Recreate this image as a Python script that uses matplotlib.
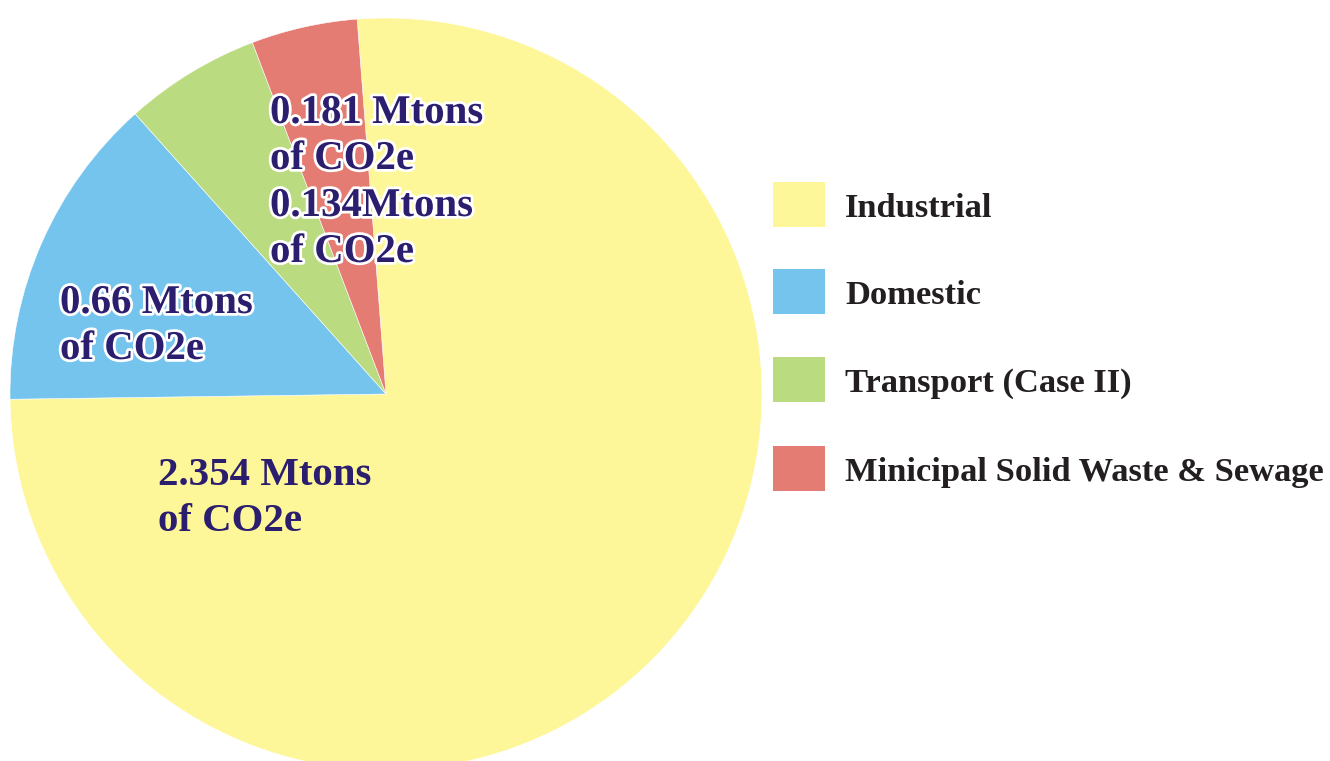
import matplotlib
matplotlib.use("Agg")
import matplotlib.pyplot as plt
import matplotlib.patheffects as pe
from matplotlib.patches import Rectangle

# ---- data (slice shares read from the drawn wedges) ----
categories = ["Industrial", "Domestic", "Transport (Case II)", "Minicipal Solid Waste & Sewage"]
shares = [76.0, 13.6, 5.84, 4.56]
slice_labels = ["2.354 Mtons\nof CO2e", "0.66 Mtons\nof CO2e", "0.181 Mtons\nof CO2e", "0.134Mtons\nof CO2e"]
colors = ["#FEF799", "#74C4EE", "#BADB7F", "#E57C73"]

W, H = 1330, 761
fig = plt.figure(figsize=(W / 100, H / 100), dpi=100)
fig.patch.set_facecolor("white")

def fx(x):
    return x / W

def fy(y):
    return 1 - y / H

# pie axes: circle centre (386, 394) px, radius 376 px
cx, cy, r = 386, 394, 376
ax = fig.add_axes([fx(cx - r), fy(cy + r), 2 * r / W, 2 * r / H])
ax.pie(shares, colors=colors, startangle=94.4, counterclock=False,
       wedgeprops=dict(linewidth=0.4, edgecolor="white"))
ax.set_xlim(-1, 1)
ax.set_ylim(-1, 1)
ax.set_aspect("equal")
ax.axis("off")

label_font = dict(family=["Liberation Serif", "DejaVu Serif"], weight="bold", size=29.4,
                  color="#2B1E6E")
outline = [pe.withStroke(linewidth=4, foreground="white")]

# label placements (left x, first baseline y) in pixels
placements = {
    0: (158, 485, False),
    1: (60, 313, True),
    2: (270, 123, True),
    3: (270, 216, True),
}
step = 46
for i, (x0, y0, stroke) in placements.items():
    for k, line in enumerate(slice_labels[i].split("\n")):
        t = fig.text(fx(x0), fy(y0 + k * step), line, ha="left", va="baseline", **label_font)
        if stroke:
            t.set_path_effects(outline)

# legend drawn manually
leg_font = dict(family=["Liberation Serif", "DejaVu Serif"], weight="bold", size=24.8,
                color="#231F20")
box_tops = [182, 269, 357, 446]
for cat, col, top in zip(categories, colors, box_tops):
    fig.patches.append(Rectangle((fx(773), fy(top + 45)), 52 / W, 45 / H,
                                 transform=fig.transFigure, facecolor=col,
                                 edgecolor="none"))
    fig.text(fx(845), fy(top + 35), cat, ha="left", va="baseline", **leg_font)

fig.savefig("out.png", dpi=100, facecolor="white")
